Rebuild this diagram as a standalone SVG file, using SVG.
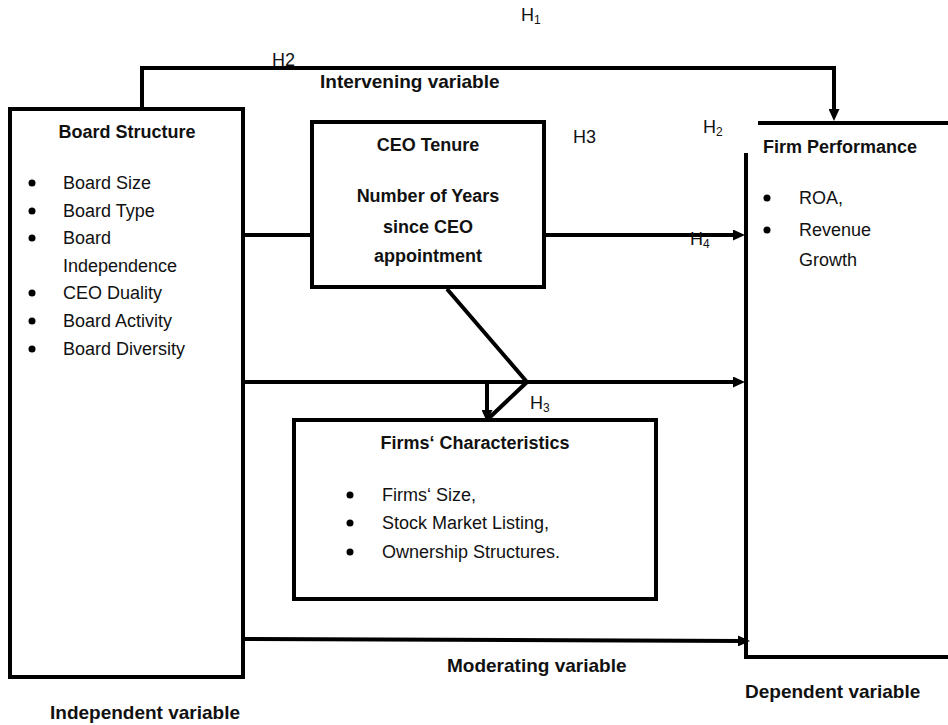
<svg xmlns="http://www.w3.org/2000/svg" width="948" height="725" viewBox="0 0 948 725">
<style>
text{font-family:"Liberation Sans",Arial,sans-serif;font-size:18px;fill:#111}
.b{font-weight:bold}
.lab{font-weight:bold;font-size:19px}
.box{fill:#fff;stroke:#000;stroke-width:4}
.ln{fill:none;stroke:#000;stroke-width:4}
.sub{font-size:12px}
</style>
<defs>
<marker id="ah" markerWidth="12" markerHeight="11" refX="4" refY="5.5" orient="auto" markerUnits="userSpaceOnUse">
<path d="M0,0 L12,5.5 L0,11z" fill="#000"/>
</marker>
</defs>
<rect width="948" height="725" fill="#fff"/>

<g id="connectors">
<path class="ln" d="M142,109 V68 H834 V113" marker-end="url(#ah)"/>
<path class="ln" d="M243,235 H312"/>
<path class="ln" d="M544,235 H737" marker-end="url(#ah)"/>
<path class="ln" d="M243,382 H737" marker-end="url(#ah)"/>
<path class="ln" d="M447,289 L527,382 L488,419"/>
<path class="ln" d="M487,382 V414" marker-end="url(#ah)"/>
<path class="ln" d="M243,639 L742,641" marker-end="url(#ah)"/>
</g>

<g id="board-structure">
<rect class="box" x="10" y="109" width="233" height="568"/>
<text class="b" x="127" y="138" text-anchor="middle">Board Structure</text>
<circle cx="32" cy="183" r="3.5"/><text x="63" y="189">Board Size</text>
<circle cx="32" cy="211" r="3.5"/><text x="63" y="217">Board Type</text>
<circle cx="32" cy="238" r="3.5"/><text x="63" y="244">Board</text>
<text x="63" y="272">Independence</text>
<circle cx="32" cy="293" r="3.5"/><text x="63" y="299">CEO Duality</text>
<circle cx="32" cy="321" r="3.5"/><text x="63" y="327">Board Activity</text>
<circle cx="32" cy="349" r="3.5"/><text x="63" y="355">Board Diversity</text>
</g>

<g id="ceo-tenure">
<rect class="box" x="312" y="122" width="232" height="165"/>
<text class="b" x="428" y="151" text-anchor="middle">CEO Tenure</text>
<text class="b" x="428" y="202" text-anchor="middle">Number of Years</text>
<text class="b" x="428" y="233" text-anchor="middle">since CEO</text>
<text class="b" x="428" y="262" text-anchor="middle">appointment</text>
</g>

<g id="firm-performance">
<path class="ln" d="M758,123 H948"/>
<path class="ln" d="M746,153 V657 H948"/>
<text class="b" x="763" y="153">Firm Performance</text>
<circle cx="767" cy="198" r="3.5"/><text x="799" y="204">ROA,</text>
<circle cx="767" cy="230" r="3.5"/><text x="799" y="236">Revenue</text>
<text x="799" y="266">Growth</text>
</g>

<g id="firms-characteristics">
<rect class="box" x="294" y="420" width="362" height="179"/>
<text class="b" x="475" y="449" text-anchor="middle">Firms‘ Characteristics</text>
<circle cx="350" cy="495" r="3.5"/><text x="382" y="501">Firms‘ Size,</text>
<circle cx="350" cy="523" r="3.5"/><text x="382" y="529">Stock Market Listing,</text>
<circle cx="350" cy="552" r="3.5"/><text x="382" y="558">Ownership Structures.</text>
</g>

<g id="labels">
<text x="521" y="21">H<tspan class="sub" dy="3">1</tspan></text>
<text x="272" y="66">H2</text>
<text x="573" y="143">H3</text>
<text x="703" y="133">H<tspan class="sub" dy="3">2</tspan></text>
<text x="690" y="245">H<tspan class="sub" dy="3">4</tspan></text>
<text x="530" y="409">H<tspan class="sub" dy="3">3</tspan></text>
<text class="lab" x="320" y="88">Intervening variable</text>
<text class="lab" x="447" y="672">Moderating variable</text>
<text class="lab" x="745" y="698">Dependent variable</text>
<text class="lab" x="50" y="719">Independent variable</text>
</g>
</svg>
